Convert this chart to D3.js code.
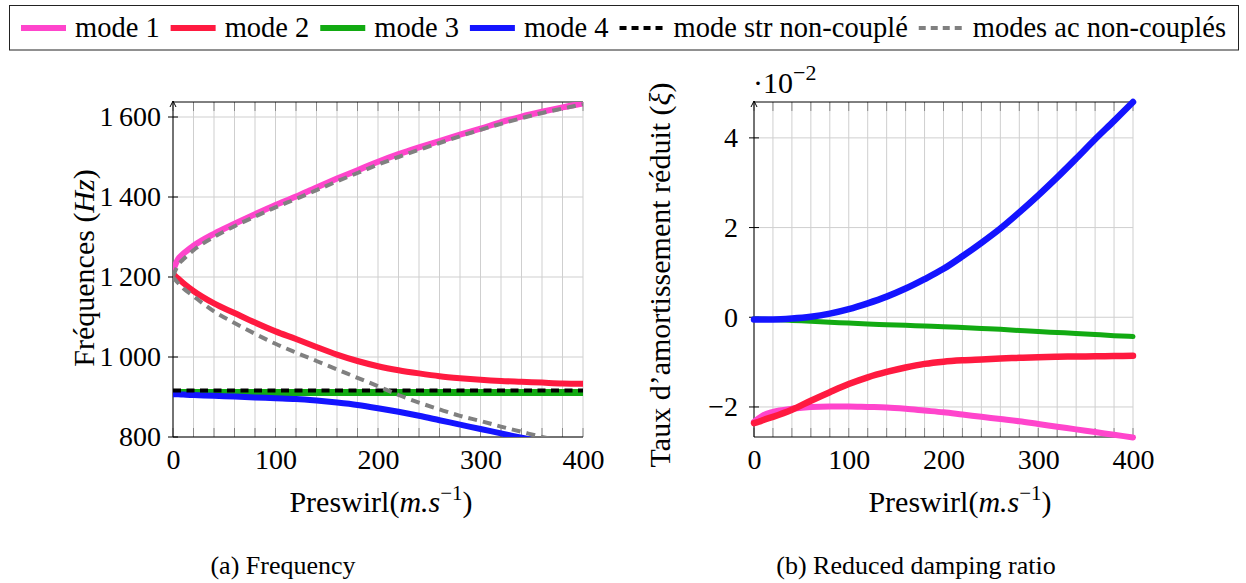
<!DOCTYPE html>
<html><head><meta charset="utf-8">
<script src="https://cdn.jsdelivr.net/npm/d3@7"></script>
<style>
body{margin:0;background:#fff}
svg text{font-family:"Liberation Serif","Times New Roman",serif;fill:#000}
</style></head><body>
<svg id="c" width="1246" height="583"></svg>
<script>
// ---------- data ----------
const preswirl = [0, 5, 10, 20, 40, 60, 80, 100, 120, 140, 160, 180, 200, 220, 240, 260, 280, 300, 320, 340, 360, 380, 400];
// (a) frequencies (Hz)
const freqMode1 = [1216, 1245, 1258, 1278, 1308, 1333, 1357, 1380, 1401, 1424, 1446, 1467, 1488, 1507, 1524, 1540, 1556, 1571, 1587, 1601, 1613, 1624, 1634];
const freqMode2 = [1208, 1196, 1185, 1165, 1134, 1110, 1086, 1064, 1045, 1025, 1006, 990, 977, 967, 959, 952, 947, 943, 940, 938, 936, 934, 933];
const freqMode3 = [911, 911, 911, 911, 911, 911, 911, 911, 911, 911, 911, 911, 911, 911, 911, 911, 911, 911, 911, 911, 911, 911, 911];
const freqMode4 = [907, 907, 906, 905, 903, 901, 899, 897, 895, 891, 886, 880, 872, 863, 853, 842, 831, 820, 809, 798, 787, 775, 762];
const freqStrUncoupled = [916, 916, 916, 916, 916, 916, 916, 916, 916, 916, 916, 916, 916, 916, 916, 916, 916, 916, 916, 916, 916, 916, 916];
const freqAcUpper = [1202, 1230, 1244, 1267, 1300, 1327, 1351, 1374, 1395, 1417, 1439, 1460, 1481, 1500, 1518, 1535, 1552, 1568, 1583, 1597, 1610, 1621, 1632];
const freqAcLower = [1200, 1185, 1172, 1152, 1114, 1085, 1058, 1033, 1011, 990, 969, 948, 927, 905, 886, 869, 853, 840, 826, 813, 800, 789, 778];
// (b) reduced damping ratio (x 1e-2)
const dampMode1 = [-2.33, -2.25, -2.18, -2.11, -2.04, -2.00, -1.99, -1.99, -2.00, -2.01, -2.04, -2.08, -2.12, -2.17, -2.22, -2.27, -2.32, -2.38, -2.44, -2.50, -2.56, -2.62, -2.68];
const dampMode2 = [-2.36, -2.33, -2.29, -2.22, -2.06, -1.86, -1.67, -1.49, -1.34, -1.22, -1.12, -1.04, -0.99, -0.96, -0.94, -0.92, -0.905, -0.89, -0.88, -0.875, -0.87, -0.865, -0.86];
const dampMode3 = [-0.04, -0.04, -0.045, -0.05, -0.07, -0.09, -0.11, -0.13, -0.15, -0.165, -0.18, -0.195, -0.21, -0.23, -0.25, -0.27, -0.295, -0.32, -0.34, -0.36, -0.385, -0.41, -0.43];
const dampMode4 = [-0.05, -0.05, -0.05, -0.05, -0.03, 0.01, 0.08, 0.18, 0.31, 0.46, 0.64, 0.85, 1.08, 1.36, 1.66, 1.98, 2.34, 2.72, 3.12, 3.54, 3.97, 4.38, 4.80];
// ticks
const xTicks = [0, 100, 200, 300, 400];
const xMinorStep = 20;
const freqTicks = [800, 1000, 1200, 1400, 1600];
const dampTicks = [-2, 0, 2, 4];
const legendLabels = ["mode 1", "mode 2", "mode 3", "mode 4", "mode str non-couplé", "modes ac non-couplés"];
const captions = ["(a) Frequency", "(b) Reduced damping ratio"];

// ---------- style ----------
const C = {pink:"#ff45cc", red:"#ff1a40", green:"#12aa12", blue:"#1414ff", black:"#000", gray:"#808080"};
const svg = d3.select("#c");
const zip = (a) => preswirl.map((p, i) => [p, a[i]]);

function panel(cfg) {
  const x = d3.scaleLinear([0, 400], [cfg.x0, cfg.x1]);
  const y = d3.scaleLinear(cfg.yDom, [cfg.y1, cfg.y0]);
  const g = svg.append("g");
  const minor = d3.range(0, 401, xMinorStep);
  // grid
  g.append("g").selectAll("line").data(minor).join("line")
    .attr("x1", d => x(d)).attr("x2", d => x(d)).attr("y1", cfg.y0).attr("y2", cfg.y1)
    .attr("stroke", "#cfcfcf").attr("stroke-width", 1);
  g.append("g").selectAll("line").data(cfg.yTicks).join("line")
    .attr("x1", cfg.x0).attr("x2", cfg.x1).attr("y1", d => y(d)).attr("y2", d => y(d))
    .attr("stroke", "#cfcfcf").attr("stroke-width", 1);
  // minor ticks top & bottom
  g.append("g").selectAll("line").data(minor).join("line")
    .attr("x1", d => x(d)).attr("x2", d => x(d)).attr("y1", cfg.y1).attr("y2", cfg.y1 - 9)
    .attr("stroke", "#8a8a8a").attr("stroke-width", 1);
  g.append("g").selectAll("line").data(minor).join("line")
    .attr("x1", d => x(d)).attr("x2", d => x(d)).attr("y1", cfg.y0).attr("y2", cfg.y0 + 9)
    .attr("stroke", "#8a8a8a").attr("stroke-width", 1);
  // y ticks crossing axis
  g.append("g").selectAll("line").data(cfg.yTicks).join("line")
    .attr("x1", cfg.x0 - 5).attr("x2", cfg.x0 + 5).attr("y1", d => y(d)).attr("y2", d => y(d))
    .attr("stroke", "#000").attr("stroke-width", 1);
  // frame
  g.append("line").attr("x1", cfg.x0).attr("x2", cfg.x1).attr("y1", cfg.y0).attr("y2", cfg.y0).attr("stroke", "#000");
  g.append("line").attr("x1", cfg.x0).attr("x2", cfg.x1).attr("y1", cfg.y1).attr("y2", cfg.y1).attr("stroke", "#000");
  g.append("line").attr("x1", cfg.x0).attr("x2", cfg.x0).attr("y1", cfg.y1).attr("y2", cfg.y0 - 1).attr("stroke", "#000");
  g.append("path").attr("d", `M${cfg.x0 - 3},${cfg.y0 + 5}L${cfg.x0},${cfg.y0 - 1}L${cfg.x0 + 3},${cfg.y0 + 5}`)
    .attr("fill", "none").attr("stroke", "#000").attr("stroke-width", 1);
  // series
  const id = "clip" + cfg.name;
  svg.append("clipPath").attr("id", id).append("rect")
    .attr("x", cfg.x0).attr("y", cfg.y0).attr("width", cfg.x1 - cfg.x0).attr("height", cfg.y1 - cfg.y0);
  const line = d3.line().x(d => x(d[0])).y(d => y(d[1])).curve(d3.curveMonotoneX);
  const sg = g.append("g");
  if (cfg.clip) sg.attr("clip-path", `url(#${id})`);
  cfg.series.forEach(s => {
    sg.append("path").attr("d", line(zip(s.v))).attr("fill", "none")
      .attr("stroke", s.c).attr("stroke-width", s.w)
      .attr("stroke-linecap", s.dash ? "butt" : "round")
      .attr("stroke-linejoin", "round")
      .attr("stroke-dasharray", s.dash || null);
  });
  // tick labels via d3 axes
  const ax = g.append("g").attr("transform", `translate(0,${cfg.y1})`)
    .call(d3.axisBottom(x).tickValues(xTicks).tickSize(0).tickPadding(12).tickFormat(d3.format("d")));
  ax.select(".domain").remove();
  ax.selectAll("text").attr("font-size", 28).attr("dy", "0.72em");
  const ay = g.append("g").attr("transform", `translate(${cfg.x0},0)`)
    .call(d3.axisLeft(y).tickValues(cfg.yTicks).tickSize(0).tickPadding(cfg.ypad).tickFormat(cfg.fmt));
  ay.select(".domain").remove();
  ay.selectAll("text").attr("font-size", 28);
  // x label
  const xl = svg.append("text").attr("x", cfg.xlX).attr("y", 512)
    .attr("text-anchor", "middle").attr("font-size", 30);
  xl.append("tspan").text("Preswirl(");
  xl.append("tspan").attr("font-style", "italic").text("m.s");
  xl.append("tspan").attr("font-size", 21).attr("dy", -12).text("−1");
  xl.append("tspan").attr("dy", 12).text(")");
  return {x, y};
}

const fmtFreq = d => { const s = String(d); return s.length > 3 ? s[0] + "\u2009" + s.slice(1) : s; };
const fmtDamp = d => d < 0 ? "−" + Math.abs(d) : String(d);

panel({name: "a", x0: 173, x1: 583, y0: 102, y1: 437, yDom: [800, 1637.5], yTicks: freqTicks,
  fmt: fmtFreq, ypad: 12, clip: true, xlX: 381,
  series: [
    {v: freqMode1, c: C.pink, w: 6},
    {v: freqMode2, c: C.red, w: 6},
    {v: freqMode3, c: C.green, w: 7},
    {v: freqMode4, c: C.blue, w: 6},
    {v: freqStrUncoupled, c: C.black, w: 4, dash: "8,5.5"},
    {v: freqAcUpper, c: C.gray, w: 4, dash: "9,6"},
    {v: freqAcLower, c: C.gray, w: 4, dash: "9,6"}
  ]});

panel({name: "b", x0: 754, x1: 1133, y0: 102, y1: 437, yDom: [-2.67, 4.8], yTicks: dampTicks,
  fmt: fmtDamp, ypad: 16, clip: false, xlX: 960,
  series: [
    {v: dampMode1, c: C.pink, w: 6},
    {v: dampMode2, c: C.red, w: 6.5},
    {v: dampMode3, c: C.green, w: 5},
    {v: dampMode4, c: C.blue, w: 6.5}
  ]});

// y labels
const yl1 = svg.append("text").attr("transform", "translate(94,268) rotate(-90)")
  .attr("text-anchor", "middle").attr("font-size", 30);
yl1.append("tspan").text("Fréquences (");
yl1.append("tspan").attr("font-style", "italic").text("Hz");
yl1.append("tspan").text(")");
const yl2 = svg.append("text").attr("transform", "translate(670,275) rotate(-90)")
  .attr("text-anchor", "middle").attr("font-size", 30);
yl2.append("tspan").text("Taux d’amortissement réduit (");
yl2.append("tspan").attr("font-style", "italic").text("ξ");
yl2.append("tspan").text(")");
// scale label
const sc = svg.append("text").attr("x", 753).attr("y", 93).attr("font-size", 30);
sc.append("tspan").text("·10");
sc.append("tspan").attr("font-size", 22).attr("dy", -13).text("−2");

// captions
svg.append("text").attr("x", 283).attr("y", 574).attr("text-anchor", "middle").attr("font-size", 26).text(captions[0]);
svg.append("text").attr("x", 916).attr("y", 574).attr("text-anchor", "middle").attr("font-size", 26).text(captions[1]);

// legend
const legendStyles = [
  {c: C.pink, w: 6}, {c: C.red, w: 6}, {c: C.green, w: 6}, {c: C.blue, w: 6},
  {c: C.black, w: 4, dash: "7,5"}, {c: C.gray, w: 4, dash: "7,5"}
];
svg.append("rect").attr("x", 9.5).attr("y", 5.5).attr("width", 1229).attr("height", 44.5)
  .attr("fill", "#fff").attr("stroke", "#222").attr("stroke-width", 1);
const lg = svg.append("g");
const texts = legendLabels.map(t => lg.append("text").attr("font-size", 28.5).attr("y", 37).text(t));
const widths = texts.map(t => t.node().getComputedTextLength());
const sampleW = 45, sGap = 9, startX = 21, endX = 1226;
const totalFixed = legendLabels.length * (sampleW + sGap) + d3.sum(widths);
const gap = (endX - startX - totalFixed) / (legendLabels.length - 1);
let cx = startX;
legendLabels.forEach((t, i) => {
  const s = legendStyles[i];
  lg.append("line").attr("x1", cx).attr("x2", cx + sampleW).attr("y1", 28).attr("y2", 28)
    .attr("stroke", s.c).attr("stroke-width", s.w).attr("stroke-dasharray", s.dash || null);
  texts[i].attr("x", cx + sampleW + sGap);
  cx += sampleW + sGap + widths[i] + gap;
});
</script>
</body></html>
